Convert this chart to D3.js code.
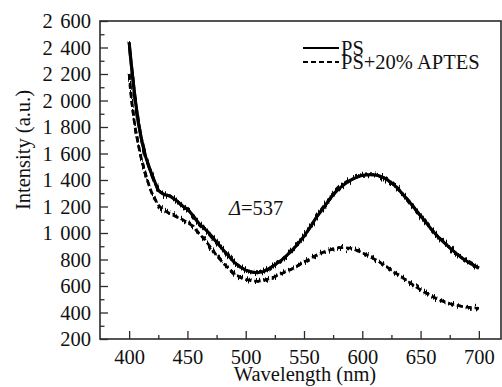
<!DOCTYPE html>
<html>
<head>
<meta charset="utf-8">
<script src="https://cdn.jsdelivr.net/npm/d3@7"></script>
<style>
  html, body { margin: 0; padding: 0; background: #fff; }
  svg { display: block; }
</style>
</head>
<body>
<div id="chart"></div>
<script>
// wavelength (nm) of every sampled point
const wavelengths = [
  400, 402, 405, 408, 411, 414, 417, 420,
  425, 430, 435, 440, 445, 450, 455, 460, 465, 470,
  475, 480, 485, 490, 495, 500, 505, 510, 515, 520,
  525, 530, 535, 540, 545, 550, 555, 560, 565, 570,
  575, 580, 585, 590, 595, 600, 605, 610, 615, 620,
  625, 630, 635, 640, 645, 650, 655, 660, 665, 670,
  675, 680, 685, 690, 695, 700,
];

// PS (solid)
const psValues = [
  2440, 2260, 2020, 1830, 1690, 1580, 1500, 1430,
  1320, 1290, 1280, 1250, 1210, 1180, 1130, 1070, 1030, 985,
  930, 880, 830, 780, 745, 720, 705, 700, 710, 730,
  760, 790, 830, 870, 920, 975, 1040, 1110, 1170, 1230,
  1290, 1335, 1370, 1400, 1420, 1435, 1440, 1440, 1430, 1410,
  1380, 1340, 1290, 1240, 1185, 1130, 1075, 1020, 970, 930,
  890, 850, 815, 785, 760, 735,
];

// PS+20% APTES (dashed)
const apsValues = [
  2200, 2010, 1800, 1660, 1540, 1440, 1360, 1290,
  1210, 1170, 1145, 1125, 1105, 1080, 1050, 995, 950, 890,
  830, 780, 735, 695, 665, 650, 640, 635, 640, 655,
  670, 690, 710, 730, 755, 780, 805, 830, 850, 865,
  880, 890, 890, 885, 870, 850, 830, 805, 780, 750,
  720, 690, 660, 630, 600, 570, 545, 520, 500, 482,
  468, 457, 447, 440, 435, 432,
];

const seriesNames = ['PS', 'PS+20% APTES'];
const xTicks = [400, 450, 500, 550, 600, 650, 700];
const xMinorTicks = [425, 475, 525, 575, 625, 675];
const yTicks = [200, 400, 600, 800, 1000, 1200, 1400, 1600, 1800, 2000, 2200, 2400, 2600];
const yMinorTicks = [300, 500, 700, 900, 1100, 1300, 1500, 1700, 1900, 2100, 2300, 2500];
const deltaLabel = '537';

const width = 502;
const height = 387;
const margin = { top: 21, right: 1, bottom: 48, left: 100 };
const fontSize = 20.5;
const fontFamily = '"Liberation Serif", "Times New Roman", serif';
const axisColor = '#2b2b2b';

const xScale = d3
  .scaleLinear()
  .domain([375, 719])
  .range([margin.left, width - margin.right]);

const yScale = d3
  .scaleLinear()
  .domain([200, 2600])
  .range([height - margin.bottom, margin.top]);

const svg = d3
  .select('#chart')
  .append('svg')
  .attr('width', width)
  .attr('height', height)
  .attr('font-family', fontFamily);

// measurement noise look of the spectra (drawing style only, data untouched)
const filter = svg
  .append('defs')
  .append('filter')
  .attr('id', 'jitter')
  .attr('filterUnits', 'userSpaceOnUse')
  .attr('x', 0)
  .attr('y', 0)
  .attr('width', width)
  .attr('height', height);
filter
  .append('feTurbulence')
  .attr('type', 'fractalNoise')
  .attr('baseFrequency', '0.9 0.03')
  .attr('numOctaves', 1)
  .attr('seed', 4)
  .attr('result', 'noise');
// keep the horizontal channel flat so spikes are vertical only
const transfer = filter
  .append('feComponentTransfer')
  .attr('in', 'noise')
  .attr('result', 'vnoise');
transfer.append('feFuncR').attr('type', 'linear').attr('slope', 0).attr('intercept', 0.5);
filter
  .append('feDisplacementMap')
  .attr('in', 'SourceGraphic')
  .attr('in2', 'vnoise')
  .attr('scale', 12)
  .attr('xChannelSelector', 'R')
  .attr('yChannelSelector', 'G');

const fmt = (d) => (d >= 1000 ? `${Math.floor(d / 1000)} ${String(d % 1000).padStart(3, '0')}` : `${d}`);

// curves
const line = (values) =>
  d3
    .line()
    .x((_, i) => xScale(wavelengths[i]))
    .y((d) => yScale(d))(values);

const curves = [
  { values: psValues, width: 3.1, dash: null },
  { values: apsValues, width: 2.7, dash: '6 3' },
];

curves.forEach((c) => {
  svg
    .append('path')
    .attr('d', line(c.values))
    .attr('fill', 'none')
    .attr('stroke', '#000')
    .attr('stroke-width', c.width)
    .attr('stroke-dasharray', c.dash);
  svg
    .append('path')
    .attr('d', line(c.values))
    .attr('fill', 'none')
    .attr('stroke', '#000')
    .attr('stroke-width', c.width)
    .attr('stroke-dasharray', c.dash)
    .attr('filter', 'url(#jitter)');
});

// axes
svg
  .append('g')
  .attr('transform', `translate(0, ${yScale.range()[0]})`)
  .call(d3.axisBottom(xScale).tickValues(xTicks).tickSize(-8).tickPadding(10).tickFormat(fmt));

svg
  .append('g')
  .attr('transform', `translate(0, ${yScale.range()[0]})`)
  .call(d3.axisBottom(xScale).tickValues(xMinorTicks).tickSize(-4).tickFormat(''));

svg
  .append('g')
  .attr('transform', `translate(${margin.left}, 0)`)
  .call(d3.axisLeft(yScale).tickValues(yTicks).tickSize(-8).tickPadding(9).tickFormat(fmt));

svg
  .append('g')
  .attr('transform', `translate(${margin.left}, 0)`)
  .call(d3.axisLeft(yScale).tickValues(yMinorTicks).tickSize(-4.5).tickFormat(''));

svg.selectAll('.domain').remove();
svg
  .selectAll('.tick line')
  .attr('stroke', axisColor)
  .attr('stroke-width', 1.3);
svg
  .selectAll('.tick text')
  .attr('fill', '#111')
  .attr('font-family', fontFamily)
  .attr('font-size', fontSize)
  .style('word-spacing', '2.5px');

// frame
svg
  .append('rect')
  .attr('x', margin.left)
  .attr('y', margin.top)
  .attr('width', xScale.range()[1] - margin.left)
  .attr('height', yScale.range()[0] - margin.top)
  .attr('fill', 'none')
  .attr('stroke', axisColor)
  .attr('stroke-width', 1.6);

// axis titles
svg
  .append('text')
  .attr('x', 305)
  .attr('y', 381)
  .attr('text-anchor', 'middle')
  .attr('font-size', fontSize)
  .attr('fill', '#111')
  .text('Wavelength (nm)');

svg
  .append('text')
  .attr('transform', 'translate(30, 150) rotate(-90)')
  .attr('text-anchor', 'middle')
  .attr('font-size', fontSize)
  .attr('fill', '#111')
  .text('Intensity (a.u.)');

// legend
const legend = svg.append('g').attr('transform', 'translate(303, 48)');
seriesNames.forEach((name, i) => {
  const g = legend.append('g').attr('transform', `translate(0, ${i * 14})`);
  g.append('line')
    .attr('x1', 0)
    .attr('x2', 36)
    .attr('stroke', '#000')
    .attr('stroke-width', 2)
    .attr('stroke-dasharray', i === 0 ? null : '5 3');
  g.append('text')
    .attr('x', 38)
    .attr('y', 6.5)
    .attr('font-size', fontSize)
    .attr('fill', '#111')
    .text(name);
});

// delta annotation
const note = svg
  .append('text')
  .attr('x', 229)
  .attr('y', 215)
  .attr('font-size', fontSize)
  .attr('fill', '#111');
note.append('tspan').attr('font-style', 'italic').text('Δ');
note.append('tspan').text(`=${deltaLabel}`);
</script>
</body>
</html>
